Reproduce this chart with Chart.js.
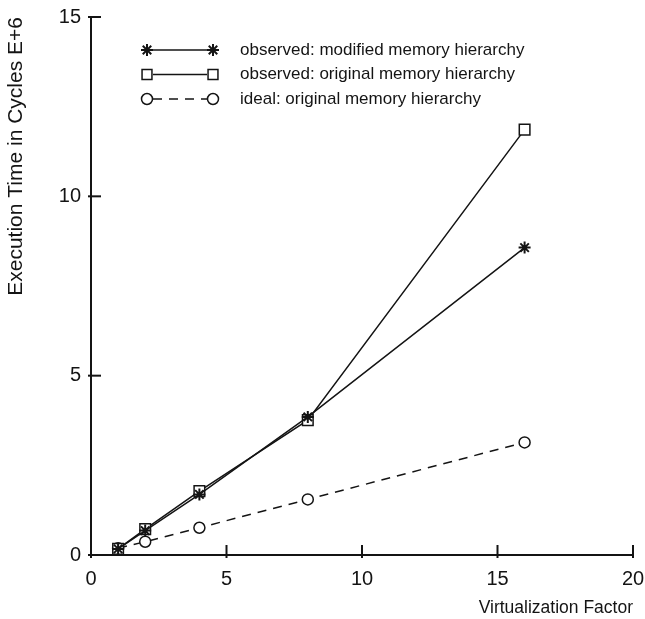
<!DOCTYPE html>
<html>
<head>
<meta charset="utf-8">
<script src="https://cdn.jsdelivr.net/npm/chart.js@4/dist/chart.umd.min.js"></script>
<style>
  html, body { margin: 0; padding: 0; background: #fff; }
  #wrap { width: 645px; height: 619px; }
</style>
</head>
<body>
<div id="wrap"><canvas id="grafico"></canvas></div>
<script>
// dados
const fatores = [1, 2, 4, 8, 16];
const modificada = [0.17, 0.68, 1.69, 3.85, 8.57];
const original = [0.17, 0.72, 1.78, 3.76, 11.86];
const ideal = [0.19, 0.37, 0.76, 1.55, 3.14];
const xTicks = [0, 5, 10, 15, 20];
const yTicks = [0, 5, 10, 15];
const nomes = [
    'observed: modified memory hierarchy',
    'observed: original memory hierarchy',
    'ideal: original memory hierarchy'
];

const cor = '#141414';
const fonte = 'Liberation Sans, Arial, Helvetica, sans-serif';

function pontos(valores) {
    return fatores.map((f, i) => ({ x: f, y: valores[i] }));
}

// ticks para dentro + legenda desenhada à mão
const extras = {
    id: 'extras',
    afterDraw(chart) {
        const ctx = chart.ctx;
        const a = chart.chartArea;
        const sx = chart.scales.x, sy = chart.scales.y;
        ctx.save();
        ctx.strokeStyle = cor;
        ctx.lineWidth = 2;
        xTicks.forEach(v => {
            const px = sx.getPixelForValue(v);
            ctx.beginPath();
            ctx.moveTo(px, a.bottom + 3);
            ctx.lineTo(px, a.bottom - 10);
            ctx.stroke();
        });
        yTicks.forEach(v => {
            const py = sy.getPixelForValue(v);
            ctx.beginPath();
            ctx.moveTo(a.left - 3, py);
            ctx.lineTo(a.left + 10, py);
            ctx.stroke();
        });

        // legenda
        const estilos = [
            { ponto: 'star', raio: 6, traco: [] },
            { ponto: 'rect', raio: 7, traco: [] },
            { ponto: 'circle', raio: 5.5, traco: [9, 7] }
        ];
        const x1 = 147, x2 = 213, xt = 240;
        const y0 = 50, passo = 24.5;
        ctx.font = '17px ' + fonte;
        ctx.textBaseline = 'middle';
        estilos.forEach((e, i) => {
            const y = y0 + i * passo;
            ctx.strokeStyle = cor;
            ctx.lineWidth = 1.5;
            ctx.setLineDash(e.traco);
            ctx.beginPath();
            ctx.moveTo(x1 + 6, y);
            ctx.lineTo(x2 - 6, y);
            ctx.stroke();
            ctx.setLineDash([]);
            ctx.fillStyle = e.ponto === 'star' ? cor : '#fff';
            ctx.lineWidth = e.ponto === 'star' ? 2 : 1.5;
            Chart.helpers.drawPoint(ctx, { pointStyle: e.ponto, radius: e.raio, rotation: 0, borderWidth: ctx.lineWidth }, x1, y);
            Chart.helpers.drawPoint(ctx, { pointStyle: e.ponto, radius: e.raio, rotation: 0, borderWidth: ctx.lineWidth }, x2, y);
            ctx.fillStyle = cor;
            ctx.fillText(nomes[i], xt, y);
        });
        ctx.restore();
    }
};

new Chart(document.getElementById('grafico'), {
    type: 'scatter',
    data: {
        datasets: [{
            label: nomes[0],
            data: pontos(modificada),
            showLine: true,
            borderColor: cor,
            backgroundColor: cor,
            borderWidth: 1.5,
            pointStyle: 'star',
            pointRadius: 6,
            pointBorderWidth: 2
        }, {
            label: nomes[1],
            data: pontos(original),
            showLine: true,
            borderColor: cor,
            backgroundColor: '#fff',
            borderWidth: 1.5,
            pointStyle: 'rect',
            pointRadius: 7.5,
            pointBorderWidth: 1.5
        }, {
            label: nomes[2],
            data: pontos(ideal),
            showLine: true,
            borderColor: cor,
            backgroundColor: '#fff',
            borderWidth: 1.5,
            borderDash: [9, 7],
            pointStyle: 'circle',
            pointRadius: 5.5,
            pointBorderWidth: 1.5
        }]
    },
    options: {
        responsive: true,
        maintainAspectRatio: false,
        animation: false,
        clip: false,
        layout: { padding: { top: 17, right: 12, left: 0, bottom: 0 } },
        plugins: {
            legend: { display: false },
            tooltip: { enabled: false }
        },
        scales: {
            x: {
                type: 'linear',
                min: 0,
                max: 20,
                afterBuildTicks(s) { s.ticks = xTicks.map(v => ({ value: v })); },
                afterFit(s) {
                    s.height = 64;
                    s.paddingLeft = 0;
                    s.paddingRight = 0;
                },
                grid: { display: false },
                border: { display: true, color: cor, width: 2 },
                ticks: { color: cor, font: { family: fonte, size: 20 }, padding: 4 },
                title: {
                    display: true,
                    text: 'Virtualization Factor',
                    align: 'end',
                    color: cor,
                    font: { family: fonte, size: 17.5 },
                    padding: { top: 4, bottom: 0 }
                }
            },
            y: {
                type: 'linear',
                min: 0,
                max: 15,
                afterBuildTicks(s) { s.ticks = yTicks.map(v => ({ value: v })); },
                afterFit(s) {
                    s.width = 91;
                    s.paddingTop = 0;
                    s.paddingBottom = 0;
                },
                grid: { display: false },
                border: { display: true, color: cor, width: 2 },
                ticks: { color: cor, font: { family: fonte, size: 20 }, padding: 2 },
                title: {
                    display: true,
                    text: 'Execution Time in Cycles E+6',
                    align: 'end',
                    color: cor,
                    font: { family: fonte, size: 21 },
                    padding: { top: 4, bottom: 0 }
                }
            }
        }
    },
    plugins: [extras]
});
</script>
</body>
</html>
